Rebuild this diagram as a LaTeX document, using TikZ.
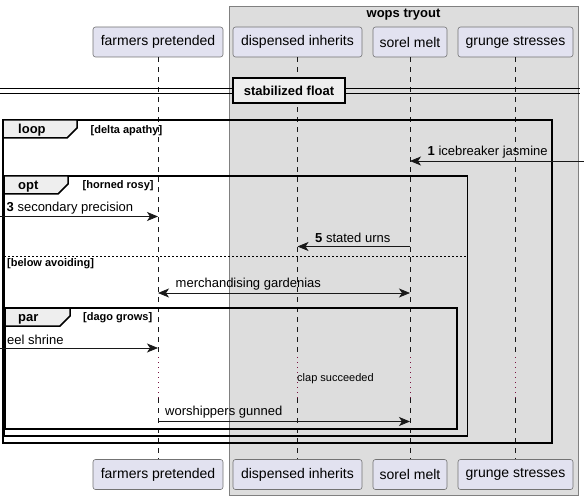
\documentclass[tikz,border=0pt]{standalone}
\usepackage{fontspec}
\setmainfont{Liberation Sans}
\usetikzlibrary{arrows.meta}
\definecolor{grpfill}{HTML}{DDDDDD}
\definecolor{partfill}{HTML}{E2E2F0}
\definecolor{lineclr}{HTML}{181818}
\definecolor{tabfill}{HTML}{EEEEEE}
\definecolor{delayclr}{HTML}{7A1040}
\begin{document}
\begin{tikzpicture}[x=1pt,y=-1pt,
 part/.style={draw=black!55, fill=partfill, rounded corners=2.5pt, line width=0.6pt, minimum height=30pt, inner sep=0pt, font=\fontsize{14}{16}\selectfont},
 lifeline/.style={draw=lineclr, line width=0.5pt, dash pattern=on 5pt off 5pt},
 delayline/.style={draw=delayclr, line width=1pt, dash pattern=on 1pt off 4pt},
 msg/.style={draw=lineclr, line width=0.8pt, -{Stealth[length=11pt,width=9pt,inset=3pt]}},
 msgboth/.style={draw=lineclr, line width=0.8pt, {Stealth[length=11pt,width=9pt,inset=3pt]}-{Stealth[length=11pt,width=9pt,inset=3pt]}},
 lbl/.style={anchor=west, inner sep=0pt, font=\fontsize{13}{15}\selectfont},
 fbox/.style={draw=black, line width=1.5pt},
 tabshape/.style={draw=black, line width=1.5pt, fill=tabfill},
 ftitle/.style={font=\bfseries\fontsize{13}{15}\selectfont, inner sep=0pt},
 ftab/.style={anchor=west, font=\bfseries\fontsize{13}{15}\selectfont, inner sep=0pt},
 fcond/.style={anchor=west, inner sep=0pt, font=\bfseries\fontsize{11}{13}\selectfont},
]
\useasboundingbox (0,0) rectangle (584,500);

% group box
\draw[fill=grpfill, draw=black!50, line width=0.6pt] (229.5,6) rectangle (578,495);
\node[ftitle] (grp) at (403.5,15) {wops tryout};

% participants
\node[part, minimum width=130pt] (fpT) at (158,42) {farmers pretended};
\node[part, minimum width=129pt] (diT) at (297.5,42) {dispensed inherits};
\node[part, minimum width=74pt] (smT) at (410,42) {sorel melt};
\node[part, minimum width=115pt] (gsT) at (515.5,42) {grunge stresses};
\node[part, minimum width=130pt] (fpB) at (158,474.5) {farmers pretended};
\node[part, minimum width=129pt] (diB) at (297.5,474.5) {dispensed inherits};
\node[part, minimum width=74pt] (smB) at (410,474.5) {sorel melt};
\node[part, minimum width=115pt] (gsB) at (515.5,474.5) {grunge stresses};

% lifelines
\coordinate (d1) at (0,357);
\coordinate (d2) at (0,398);
\foreach \p in {fp,di,sm,gs}{
  \draw[lifeline] (\p T.south) -- (\p T.south |- d1);
  \draw[delayline] (\p T.south |- d1) -- (\p T.south |- d2);
  \draw[lifeline] (\p T.south |- d2) -- (\p B.north);
}

% divider
\coordinate (dvl) at (0,88.5);
\coordinate (dvr) at (580,88.5);
\coordinate (dvl2) at (0,93.5);
\coordinate (dvr2) at (580,93.5);
\draw[line width=1pt, black] (dvl) -- (dvr);
\draw[line width=1pt, black] (dvl2) -- (dvr2);
\node[draw=black, line width=1.6pt, fill=tabfill, minimum width=112pt, minimum height=25pt, ftitle] (div) at (289,90.5) {stabilized float};

% loop frame
\draw[fbox] (3,120) rectangle (552,443);
\draw[tabshape] (3,120) -- (77,120) -- (77,128) -- (67,138) -- (3,138) -- cycle;
\node[ftab] (tloop) at (18,130.5) {loop};
\node[fcond] (cloop) at (90.5,130.5) {[delta apathy]};

% message 1
\coordinate (m1a) at (584,161);
\draw[msg] (m1a) -- (m1a -| smT);
\node[lbl] (l1) at (427.5,152.5) {\textbf{1} icebreaker jasmine};

% opt frame
\draw[fbox] (4,176) rectangle (467.5,436);
\draw[tabshape] (4,176) -- (68,176) -- (68,184) -- (58,194) -- (4,194) -- cycle;
\node[ftab] (topt) at (18,186.5) {opt};
\node[fcond] (copt) at (82.5,186) {[horned rosy]};

% message 3
\coordinate (m3a) at (0,216.5);
\draw[msg] (m3a) -- (m3a -| fpT);
\node[lbl] (l3) at (6.5,208) {\textbf{3} secondary precision};

% message 5
\coordinate (m5a) at (0,246.5);
\draw[msg] (m5a -| smT) -- (m5a -| diT);
\node[lbl] (l5) at (315,238) {\textbf{5} stated urns};

% else
\coordinate (ea) at (4,256);
\coordinate (eb) at (467.5,256);
\draw[draw=black, line width=0.8pt, dash pattern=on 2pt off 2pt] (ea) -- (eb);
\node[fcond] (celse) at (7,264) {[below avoiding]};

% merchandising
\coordinate (m6) at (0,293);
\draw[msgboth] (m6 -| fpT) -- (m6 -| smT);
\node[lbl] (l6) at (175.5,284) {merchandising gardenias};

% par frame
\draw[fbox] (5,308) rectangle (457,429);
\draw[tabshape] (5,308) -- (70,308) -- (70,316) -- (60,326) -- (5,326) -- cycle;
\node[ftab] (tpar) at (18,319) {par};
\node[fcond] (cpar) at (83,318) {[dago grows]};

% eel shrine
\coordinate (m7) at (0,348);
\draw[msg] (m7) -- (m7 -| fpT);
\node[lbl] (l7) at (7,340) {eel shrine};

% delay
\node[anchor=west, inner sep=0pt, font=\fontsize{11}{13}\selectfont] (dly) at (297,378.5) {clap succeeded};

% worshippers
\coordinate (m8) at (0,421.5);
\draw[msg] (m8 -| fpT) -- (m8 -| smT);
\node[lbl] (l8) at (165,412) {worshippers gunned};
\end{tikzpicture}
\end{document}
